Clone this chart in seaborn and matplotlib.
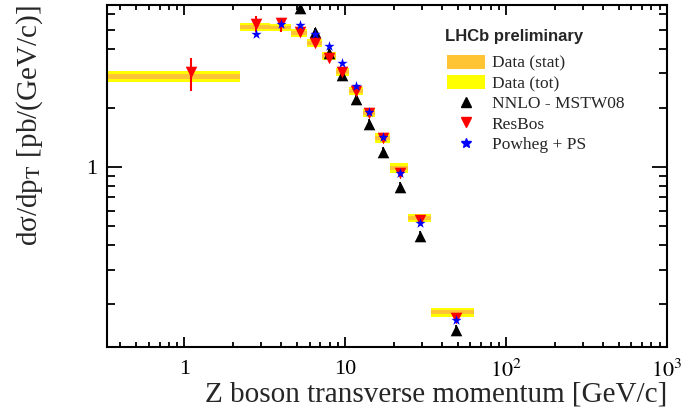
import numpy as np
import pandas as pd
import matplotlib
matplotlib.use("Agg")
import matplotlib.pyplot as plt
import seaborn as sns
from matplotlib.patches import Patch
from matplotlib.lines import Line2D
from matplotlib.ticker import FixedLocator, FixedFormatter, LogLocator, NullFormatter

# Z pT bins [GeV/c]
bin_lo = [0.0, 2.2, 3.4, 4.6, 5.8, 7.2, 8.7, 10.5, 12.8, 15.4, 19.0, 24.5, 34.0]
bin_hi = [2.2, 3.4, 4.6, 5.8, 7.2, 8.7, 10.5, 12.8, 15.4, 19.0, 24.5, 34.0, 63.0]

# measured cross-section and uncertainties [pb/(GeV/c)]
data_val = [2.90, 5.18, 5.15, 4.83, 4.29, 3.68, 3.05, 2.44, 1.89, 1.41, 0.99, 0.549, 0.182]
data_tot = [0.20, 0.26, 0.23, 0.24, 0.21, 0.18, 0.15, 0.12, 0.095, 0.085, 0.055, 0.027, 0.009]
data_stat = [0.09, 0.12, 0.11, 0.11, 0.10, 0.08, 0.07, 0.055, 0.045, 0.035, 0.027, 0.013, 0.0045]

# theory predictions
nnlo_val = [np.nan, np.nan, np.nan, 6.5, 4.88, 3.81, 2.95, 2.22, 1.66, 1.19, 0.79, 0.444, 0.147]
nnlo_err = [np.nan, np.nan, np.nan, 0.3, 0.25, 0.2, 0.15, 0.12, 0.09, 0.07, 0.05, 0.028, 0.010]
resbos_val = [3.05, 5.37, 5.43, 4.88, 4.29, 3.60, 3.05, 2.44, 1.89, 1.41, 0.93, 0.536, 0.171]
resbos_lo = [0.61, 0.49, 0.55, 0.10, 0.08, 0.07, 0.06, 0.05, 0.04, 0.03, 0.02, 0.012, 0.004]
resbos_hi = [0.55, 0.52, 0.26, 0.10, 0.08, 0.07, 0.06, 0.05, 0.04, 0.03, 0.02, 0.012, 0.004]
powheg_val = [np.nan, 4.77, 5.37, 5.30, 4.77, 4.15, 3.39, 2.59, 1.91, 1.42, 0.93, 0.518, 0.166]

x_ticks = [1, 10, 100, 1000]
x_ticklabels = ["1", "10", r"$10^{2}$", r"$10^{3}$"]
y_ticks = [1]
y_ticklabels = ["1"]

df = pd.DataFrame({
    "lo": bin_lo, "hi": bin_hi,
    "data": data_val, "tot": data_tot, "stat": data_stat,
    "nnlo": nnlo_val, "nnlo_err": nnlo_err,
    "resbos": resbos_val, "resbos_lo": resbos_lo, "resbos_hi": resbos_hi,
    "powheg": powheg_val,
})
df["pt"] = (df["lo"] + df["hi"]) / 2
# log axis can't take 0 as an edge
df["lo_plot"] = df["lo"].clip(lower=1e-2)

sns.set_theme(style="ticks")
plt.rcParams["font.family"] = ["Liberation Serif", "DejaVu Serif"]
plt.rcParams["mathtext.fontset"] = "stix"
plt.rcParams["axes.linewidth"] = 1.5

yellow = "#ffff00"
orange = "#ffc433"

fig = plt.figure(figsize=(6.97, 4.13), dpi=100)
ax = fig.add_axes([107 / 697, 1 - 347 / 413, 560 / 697, 342 / 413])
ax.set_xscale("log")
ax.set_yscale("log")

# data boxes: total then stat
for _, r in df.iterrows():
    ax.fill_between([r["lo_plot"], r["hi"]], r["data"] - r["tot"], r["data"] + r["tot"],
                    color=yellow, lw=0, zorder=1)
    ax.fill_between([r["lo_plot"], r["hi"]], r["data"] - r["stat"], r["data"] + r["stat"],
                    color=orange, lw=0, zorder=2)

# theory error bars
ax.errorbar(df["pt"], df["nnlo"], yerr=df["nnlo_err"], fmt="none", ecolor="black",
            elinewidth=1.2, capsize=0, zorder=3)
ax.errorbar(df["pt"], df["resbos"], yerr=[df["resbos_lo"], df["resbos_hi"]], fmt="none",
            ecolor="red", elinewidth=1.5, capsize=0, zorder=4)

# theory markers
sns.scatterplot(data=df, x="pt", y="nnlo", marker="^", color="black", s=70,
                linewidth=0, ax=ax, zorder=5)
sns.scatterplot(data=df, x="pt", y="resbos", marker="v", color="red", s=70,
                linewidth=0, ax=ax, zorder=6)
sns.scatterplot(data=df, x="pt", y="powheg", marker="*", color="blue", s=60,
                linewidth=0, ax=ax, zorder=7)

ax.set_xlim(0.33, 1000)
ax.set_ylim(0.121, 6.7)

ax.xaxis.set_major_locator(FixedLocator(x_ticks))
ax.xaxis.set_major_formatter(FixedFormatter(x_ticklabels))
ax.xaxis.set_minor_locator(LogLocator(base=10, subs=np.arange(2, 10)))
ax.xaxis.set_minor_formatter(NullFormatter())
ax.yaxis.set_major_locator(FixedLocator(y_ticks))
ax.yaxis.set_major_formatter(FixedFormatter(y_ticklabels))
ax.yaxis.set_minor_locator(LogLocator(base=10, subs=np.arange(2, 10)))
ax.yaxis.set_minor_formatter(NullFormatter())

ax.tick_params(which="both", direction="in", top=True, right=True, width=1.3,
               labelsize=16, colors="black")
ax.tick_params(axis="x", which="major", length=7, pad=9)
ax.tick_params(axis="x", which="minor", length=3.5)
ax.tick_params(axis="y", which="major", length=11, pad=7)
ax.tick_params(axis="y", which="minor", length=5.5)
for s in ax.spines.values():
    s.set_color("black")

ax.set_xlabel("Z boson transverse momentum [GeV/c]", fontsize=21, loc="right")
ax.xaxis.set_label_coords(1.0, -0.10)
ax.set_ylabel(r"dσ/dp$_{\rm T}$ [pb/(GeV/c)]", fontsize=21, loc="top")
ax.yaxis.set_label_coords(-0.11, 1.0)

# legend header
fig.text(445 / 697, 1 - 37 / 413, "LHCb preliminary", family="Liberation Sans",
         weight="bold", fontsize=12, ha="left", va="center")

handles = [
    Patch(facecolor=orange, edgecolor="none"),
    Patch(facecolor=yellow, edgecolor="none"),
    Line2D([], [], marker="^", color="black", ls="none", markersize=7),
    Line2D([], [], marker="v", color="red", ls="none", markersize=7),
    Line2D([], [], marker="*", color="blue", ls="none", markersize=7),
]
labels = ["Data (stat)", "Data (tot)", "NNLO - MSTW08", "ResBos", "Powheg + PS"]
leg = ax.legend(handles, labels, loc="upper left",
                bbox_to_anchor=(438 / 697, 1 - 46 / 413), bbox_transform=fig.transFigure,
                frameon=False, fontsize=12.5, handlelength=2.2, handleheight=0.85,
                handletextpad=0.4, labelspacing=0.2, borderpad=0)

fig.savefig("out.png", dpi=100)
